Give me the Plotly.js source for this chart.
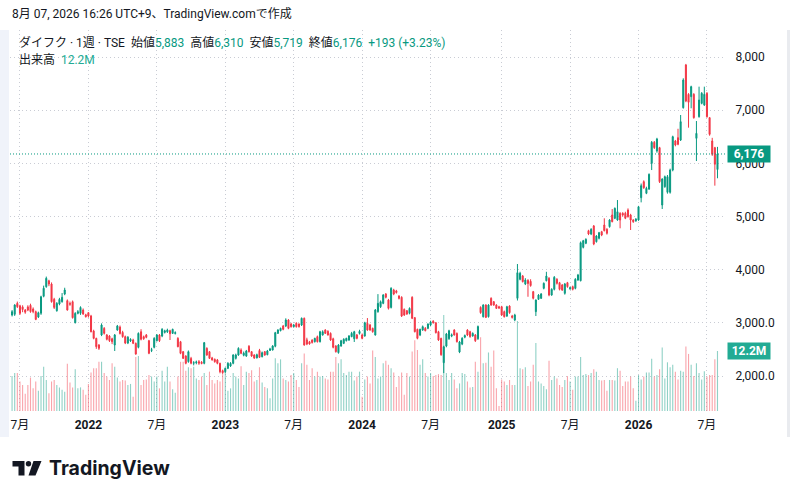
<!DOCTYPE html>
<html>
<head>
<meta charset="utf-8">
<script src="https://cdn.plot.ly/plotly-3.0.1.min.js"></script>
<style>
html,body{margin:0;padding:0;background:#ffffff;}
#chart{width:798px;height:499px;}
</style>
</head>
<body>
<div id="chart"></div>
<script>
// ---- Data (weekly bars, ダイフク 1週 TSE) ----
const firstWeek = '2021-06-14';

const openP = [
3147,3160,3366,3320,3300,3240,3300,3330,3260,3210,
3110,3180,3500,3680,3790,3730,3442,3228,3354,3397,
3542,3417,3366,3397,3002,3178,3178,3241,3150,3191,
3128,2846,2708,2583,2771,2896,2771,2752,2700,2583,
2865,2920,2820,2740,2620,2660,2677,2614,2539,2833,
2740,2771,2664,2480,2539,2664,2771,2752,2820,2830,
2852,2802,2800,2708,2645,2457,2376,2270,2330,2240,
2250,2270,2260,2238,2520,2457,2340,2313,2301,2238,
2100,2081,2144,2188,2238,2332,2395,2489,2390,2376,
2560,2457,2395,2340,2480,2363,2457,2400,2480,2489,
2560,2802,2852,2940,2940,3053,2978,2928,2990,2978,
2959,3085,2680,2645,2677,2645,2740,2645,2771,2865,
2840,2802,2700,2564,2439,2564,2614,2664,2677,2740,
2700,2771,2800,2771,2752,2990,2959,2896,2771,3210,
3303,3366,3542,3430,3290,3617,3600,3504,3480,3253,
3228,3178,3480,3097,2878,2771,2865,2896,2896,2959,
3030,3002,2833,2708,2250,2564,2700,2750,2865,2800,
2450,2600,2730,2865,2833,2752,2771,2700,3290,3115,
3335,3115,3461,3397,3335,3303,3303,3210,3128,3316,
3128,3053,3461,3818,3880,3730,3800,3780,3586,3210,
3442,3461,3649,3792,3837,3523,3630,3818,3755,3711,
3555,3755,3640,3680,3649,3805,3792,4420,4496,4733,
4671,4821,4526,4590,4714,4840,4759,4809,5028,4966,
4934,5060,5060,5060,5122,5028,4934,4920,4934,5354,
5655,5436,5517,6000,6395,6232,6295,5216,5561,5455,
5455,5874,6420,6483,6439,7047,7850,7298,7254,7298,
6470,6877,7128,7097,7317,6859,6420,6295,5883
];
const highP = [
3240,3350,3400,3340,3330,3260,3330,3360,3290,3230,
3210,3510,3700,3870,3810,3760,3470,3390,3470,3560,
3660,3440,3400,3420,3200,3240,3310,3270,3170,3200,
3150,2870,2720,2600,2990,2920,2790,2770,2720,2790,
2960,2950,2850,2760,2750,2710,2700,2630,2820,2880,
2760,2790,2680,2530,2730,2790,2790,2900,2870,2890,
2870,2890,2840,2730,2660,2470,2390,2480,2360,2280,
2290,2300,2280,2640,2540,2470,2360,2330,2320,2250,
2120,2160,2260,2260,2410,2420,2540,2520,2460,2490,
2580,2470,2410,2420,2510,2460,2470,2490,2530,2580,
2830,2880,2910,2960,3085,3070,3000,2980,3010,2990,
3100,3100,2720,2660,2690,2720,2760,2850,2860,2880,
2860,2820,2720,2580,2600,2680,2710,2720,2770,2830,
2850,2790,2870,2800,3020,3090,2980,2910,3260,3540,
3420,3540,3560,3450,3670,3640,3620,3520,3500,3270,
3240,3290,3500,3110,2890,2890,2950,2920,2990,3040,
3050,3010,2850,2720,2570,2810,2870,2800,2880,2820,
2660,2730,2780,2880,2850,2820,2790,2950,3310,3350,
3350,3350,3480,3410,3350,3320,3320,3230,3320,3330,
3150,3170,4106,3960,3900,3840,3820,3820,3600,3440,
3540,3560,3760,3960,3860,3650,3880,3840,3770,3730,
3750,3770,3680,3700,3840,3920,4530,4560,4590,4750,
4780,4840,4650,4710,4730,4966,4780,4950,5140,5170,
5310,5080,5080,5090,5153,5050,4950,4970,5200,5620,
5680,5560,5810,6420,6420,6480,6310,5720,5770,5780,
5900,6520,6440,6650,6909,7600,7870,7320,7460,7320,
6796,7442,7340,7442,7340,6870,6480,6310,6310
];
const lowP = [
3120,3130,3280,3150,3200,3170,3220,3190,3180,3050,
3090,3150,3480,3660,3690,3380,3260,3210,3330,3380,
3520,3230,3320,3080,2990,3160,3150,3150,3100,3100,
2820,2690,2510,2490,2750,2780,2670,2640,2600,2470,
2850,2780,2720,2600,2600,2640,2600,2400,2520,2670,
2680,2710,2410,2450,2520,2650,2640,2730,2800,2810,
2677,2790,2780,2540,2410,2320,2220,2250,2220,2200,
2220,2210,2220,2220,2380,2320,2290,2250,2220,2050,
2040,2060,2130,2170,2220,2310,2380,2410,2370,2360,
2440,2360,2320,2330,2340,2350,2380,2390,2470,2480,
2540,2790,2840,2860,2920,2880,2910,2910,2910,2910,
2940,2570,2580,2590,2610,2630,2630,2630,2760,2790,
2760,2660,2520,2440,2420,2550,2600,2650,2660,2730,
2640,2690,2780,2690,2740,2850,2850,2815,2760,3190,
3280,3350,3460,3250,3270,3520,3550,3440,3110,3130,
3150,3160,3070,2820,2690,2750,2850,2840,2880,2940,
2985,2800,2660,2380,2055,2540,2680,2730,2760,2630,
2430,2580,2710,2750,2720,2740,2640,2680,3170,3100,
3090,3100,3320,3320,3260,3260,3130,3100,3110,3170,
3080,3030,3420,3800,3760,3710,3490,3680,3440,3128,
3430,3450,3630,3780,3500,3510,3610,3720,3610,3600,
3530,3660,3620,3610,3630,3790,3780,4400,4480,4650,
4650,4460,4510,4570,4630,4720,4660,4790,4890,4950,
4920,4778,5000,4950,4980,4746,4880,4900,4920,5266,
5520,5420,5500,5874,6270,6200,5630,5141,5540,5430,
5430,5850,6320,6340,6420,7030,7150,6671,7035,6840,
6044,6860,7110,7080,6860,6520,6140,5580,5719
];
const closeP = [
3210,3335,3303,3178,3250,3200,3240,3210,3210,3065,
3190,3490,3650,3837,3730,3397,3290,3366,3442,3480,
3617,3241,3350,3097,3178,3210,3290,3166,3115,3128,
2833,2708,2551,2520,2959,2802,2690,2664,2645,2771,
2940,2800,2740,2620,2730,2690,2614,2413,2802,2690,
2700,2727,2426,2495,2708,2771,2664,2878,2850,2865,
2795,2878,2815,2551,2426,2332,2238,2457,2240,2250,
2265,2240,2235,2627,2395,2332,2301,2270,2238,2081,
2062,2144,2238,2238,2395,2395,2520,2426,2430,2470,
2457,2376,2340,2400,2351,2439,2395,2470,2510,2564,
2815,2865,2896,2878,3053,2896,2928,2959,2928,2928,
3085,2583,2600,2602,2630,2708,2645,2833,2833,2802,
2771,2677,2539,2457,2583,2664,2690,2708,2752,2802,
2833,2708,2840,2708,3002,2865,2865,2833,3241,3366,
3397,3523,3480,3272,3649,3542,3570,3460,3128,3147,
3166,3272,3085,2833,2708,2878,2928,2852,2978,3016,
3002,2815,2677,2400,2550,2790,2852,2775,2771,2645,
2640,2710,2760,2771,2740,2802,2664,2930,3191,3335,
3103,3335,3335,3335,3272,3280,3147,3115,3303,3191,
3103,3147,3943,3931,3774,3805,3740,3700,3461,3429,
3523,3542,3743,3880,3523,3630,3856,3743,3630,3617,
3730,3680,3660,3630,3818,3899,4507,4545,4571,4671,
4759,4483,4633,4696,4652,4733,4684,4934,4903,5153,
5090,4934,5028,4966,4997,4934,4903,4950,5184,5580,
5542,5530,5793,6395,6295,6458,5655,5705,5749,5749,
5874,6501,6345,6357,6784,7567,7172,7148,7442,6859,
6564,7191,7317,7298,6877,6545,6169,5983,6176
];
// weekly volume, millions of shares
const volumeM = [
7.1,7.7,7.7,6.0,5.3,3.5,5.3,6.8,4.6,6.0,
4.1,7.1,9.0,6.3,3.6,6.0,6.3,5.3,4.8,4.3,
3.9,9.6,5.8,4.8,8.5,4.6,4.8,4.3,3.3,5.5,
7.8,8.7,8.7,10.0,10.0,7.7,7.0,6.3,9.7,9.0,
6.8,6.0,6.3,6.2,5.3,5.5,2.9,11.0,11.2,5.3,
6.3,6.4,7.3,7.0,6.0,7.0,4.6,8.2,6.0,9.0,
6.0,4.4,3.7,7.0,10.0,10.0,8.2,8.9,8.7,9.0,
6.6,6.3,7.0,7.7,5.3,8.0,6.3,5.6,6.3,6.0,
7.5,8.0,4.1,4.6,7.7,7.0,6.6,9.1,5.3,8.0,
7.7,8.3,6.0,6.3,8.9,5.8,4.9,4.6,2.6,6.6,
10.7,9.7,10.5,6.6,6.3,6.0,7.3,7.7,6.3,4.9,
9.7,11.7,9.4,6.3,8.7,7.0,8.0,7.0,7.1,6.6,
6.4,8.0,8.0,11.0,9.7,10.5,7.7,7.3,8.0,8.0,
6.2,7.0,8.0,2.9,6.4,7.0,5.6,12.3,11.0,6.6,
7.0,9.7,10.2,9.4,8.7,7.8,4.9,7.0,7.8,3.3,
7.7,7.0,12.1,14.4,12.4,9.4,10.5,7.7,7.0,7.7,
7.1,7.3,7.5,7.3,19.5,7.7,6.3,7.7,6.4,4.6,
5.6,7.7,7.5,6.0,4.8,4.9,10.0,8.0,15.0,9.7,
9.8,11.9,9.0,12.3,4.6,1.0,6.4,6.0,5.3,6.3,
5.3,5.3,18.3,8.7,8.5,8.9,5.1,6.0,9.4,13.8,
6.0,5.6,5.1,4.4,10.2,6.3,7.0,6.6,5.3,4.9,
6.3,7.1,6.0,4.3,7.0,7.0,11.0,7.3,7.5,7.3,
7.7,8.5,8.0,6.3,6.2,6.3,4.1,6.3,6.3,6.2,
8.7,8.2,5.1,6.0,6.0,7.0,4.6,2.1,7.3,6.4,
7.0,7.8,7.8,10.6,7.0,7.3,8.5,12.9,6.6,9.9,
8.9,9.4,8.0,6.4,8.2,8.0,13.1,11.6,9.4,7.1,
9.7,7.7,6.4,8.1,7.0,7.3,7.3,10.5,12.2
];
const xTickVals = ['2021-07-05','2022-01-03','2022-07-04','2023-01-02','2023-07-03','2024-01-01','2024-07-01','2025-01-06','2025-07-07','2026-01-05','2026-07-06'];
const xTickText = ['7月','<b>2022</b>','7月','<b>2023</b>','7月','<b>2024</b>','7月','<b>2025</b>','7月','<b>2026</b>','7月'];
const yTickVals = [2000,3000,4000,5000,6000,7000,8000];
const yTickText = ['2,000.0','3,000.0','4,000','5,000','6,000','7,000','8,000'];

// ---- Build ----
const WEEK = 7*86400000;
const t0 = Date.parse(firstWeek + 'T00:00:00Z');
const dates = closeP.map((_, i) => new Date(t0 + i*WEEK).toISOString().slice(0,10));

const UP = '#089981', DOWN = '#f23645';
const volColors = closeP.map((c, i) => c >= openP[i] ? 'rgba(8,153,129,0.45)' : 'rgba(242,54,69,0.45)');

const FONT = 'Roboto, "Noto Sans CJK JP", sans-serif';
const TXT = '#131722';
// pixel -> paper helpers (plot area: x 10..723, y 30..413)
const L = 10, R = 75, T = 30, B = 86, W = 798, H = 499;
const PW = W - L - R, PH = H - T - B;
const px = x => (x - L) / PW;
const py = y => (H - B - y) / PH;

const n = closeP.length;
const last = n - 1;
const fmt = v => v.toLocaleString('en-US');
const chg = closeP[last] - closeP[last-1];
const pct = (chg / closeP[last-1] * 100).toFixed(2);
const g = s => '<span style="color:' + UP + '">' + s + '</span>';
const sp = '\u00a0\u00a0';
const legend1 = 'ダイフク · 1週 · TSE' + sp + '始値' + g(fmt(openP[last])) + sp + '高値' + g(fmt(highP[last])) +
  sp + '安値' + g(fmt(lowP[last])) + sp + '終値' + g(fmt(closeP[last])) + sp +
  g((chg >= 0 ? '+' : '') + chg + ' (' + (chg >= 0 ? '+' : '') + pct + '%)');
const volLabel = volumeM[last].toFixed(1) + 'M';
const legend2 = '出来高' + sp + '<span style="color:#22ab94">' + volLabel + '</span>';

const volTrace = {
  type: 'bar', x: dates, y: volumeM, xaxis: 'x', yaxis: 'y',
  width: WEEK * 0.42,
  marker: { color: volColors, line: { width: 0 } },
  hoverinfo: 'skip'
};
const candleTrace = {
  type: 'candlestick', x: dates, open: openP, high: highP, low: lowP, close: closeP,
  xaxis: 'x', yaxis: 'y2',
  increasing: { line: { color: UP, width: 1 }, fillcolor: UP },
  decreasing: { line: { color: DOWN, width: 1 }, fillcolor: DOWN },
  whiskerwidth: 0,
  hoverinfo: 'skip'
};

const gridCol = '#c9ccd4';
const gridDash = '1px,3px';
const layout = {
  width: W, height: H,
  margin: { l: L, r: R, t: T, b: B, pad: 0 },
  paper_bgcolor: '#ffffff', plot_bgcolor: '#ffffff',
  showlegend: false,
  boxgap: 0.45,
  font: { family: FONT, color: TXT, size: 12 },
  xaxis: {
    type: 'date',
    range: ['2021-06-08 12:00', '2026-08-17 16:00'],
    tickmode: 'array', tickvals: xTickVals, ticktext: xTickText,
    tickfont: { family: FONT, size: 12, color: TXT },
    showgrid: true, gridcolor: gridCol, griddash: gridDash, gridwidth: 1,
    zeroline: false, showline: false,
    ticks: 'outside', ticklen: 1, tickcolor: 'rgba(0,0,0,0)',
    rangeslider: { visible: false },
    fixedrange: true
  },
  yaxis: {
    range: [-0.41, 77.47], visible: false, fixedrange: true, showgrid: false, zeroline: false
  },
  yaxis2: {
    overlaying: 'y', side: 'right', range: [1304, 8508],
    tickmode: 'array', tickvals: yTickVals, ticktext: yTickText,
    tickfont: { family: FONT, size: 12, color: TXT },
    showgrid: true, gridcolor: gridCol, griddash: gridDash, gridwidth: 1,
    zeroline: false, showline: false,
    ticks: 'outside', ticklen: 9, tickcolor: 'rgba(0,0,0,0)',
    fixedrange: true
  },
  shapes: [
    // side frame strips
    { type: 'rect', xref: 'paper', yref: 'paper', x0: px(0), x1: px(9), y0: py(437), y1: py(30),
      fillcolor: '#f0f3fa', line: { width: 0 }, layer: 'below' },
    { type: 'rect', xref: 'paper', yref: 'paper', x0: px(787), x1: px(790), y0: py(437), y1: py(30),
      fillcolor: '#e9ebef', line: { width: 0 }, layer: 'below' },
    // last price dotted line
    { type: 'line', xref: 'paper', yref: 'y2', x0: 0, x1: px(727), y0: closeP[last], y1: closeP[last],
      line: { color: UP, width: 1, dash: '1px,2px' } },
    // TradingView logo mark
    { type: 'path', xref: 'paper', yref: 'paper',
      path: 'M' + px(12.5) + ',' + py(461) + ' L' + px(24.5) + ',' + py(461) + ' L' + px(24.5) + ',' + py(475.5) +
            ' L' + px(18.5) + ',' + py(475.5) + ' L' + px(18.5) + ',' + py(466.5) + ' L' + px(12.5) + ',' + py(466.5) + ' Z',
      fillcolor: TXT, line: { width: 0 } },
    { type: 'circle', xref: 'paper', yref: 'paper', x0: px(25.8), x1: px(31.2), y0: py(466.4), y1: py(461),
      fillcolor: TXT, line: { width: 0 } },
    { type: 'path', xref: 'paper', yref: 'paper',
      path: 'M' + px(33.5) + ',' + py(461) + ' L' + px(41.5) + ',' + py(461) + ' L' + px(35.5) + ',' + py(475.5) +
            ' L' + px(28.5) + ',' + py(475.5) + ' Z',
      fillcolor: TXT, line: { width: 0 } }
  ],
  annotations: [
    { xref: 'paper', yref: 'paper', x: px(10), y: py(14), xanchor: 'left', yanchor: 'middle', showarrow: false,
      text: '8月 07, 2026 16:26 UTC+9、TradingView.comで作成', font: { family: FONT, size: 12, color: TXT } },
    { xref: 'paper', yref: 'paper', x: px(17), y: py(42), xanchor: 'left', yanchor: 'middle', showarrow: false,
      text: legend1, font: { family: FONT, size: 12, color: TXT } },
    { xref: 'paper', yref: 'paper', x: px(17), y: py(60), xanchor: 'left', yanchor: 'middle', showarrow: false,
      text: legend2, font: { family: FONT, size: 12, color: TXT } },
    { xref: 'paper', yref: 'y2', x: px(727), y: closeP[last], xanchor: 'left', yanchor: 'middle', showarrow: false,
      text: '<b>' + fmt(closeP[last]) + '</b>', bgcolor: UP, width: 40, height: 14, borderpad: 1, align: 'center',
      font: { family: FONT, size: 12, color: '#ffffff' } },
    { xref: 'paper', yref: 'y', x: px(727), y: volumeM[last], xanchor: 'left', yanchor: 'middle', showarrow: false,
      text: '<b>' + volLabel + '</b>', bgcolor: '#22ab94', width: 40, height: 14, borderpad: 1, align: 'center',
      font: { family: FONT, size: 12, color: '#ffffff' } },
    { xref: 'paper', yref: 'paper', x: px(47), y: py(468), xanchor: 'left', yanchor: 'middle', showarrow: false,
      text: '<b>TradingView</b>', font: { family: 'Inter, Roboto, sans-serif', size: 19.5, color: TXT } }
  ]
};

Plotly.newPlot('chart', [volTrace, candleTrace], layout, { staticPlot: true, displayModeBar: false });
</script>
</body>
</html>
